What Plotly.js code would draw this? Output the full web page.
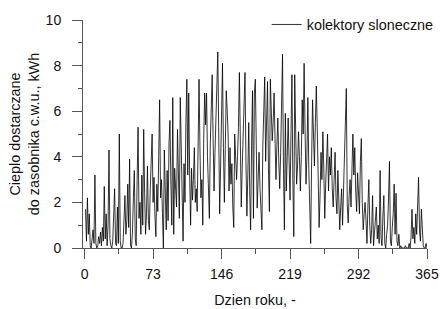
<!DOCTYPE html>
<html>
<head>
<meta charset="utf-8">
<script src="https://cdn.plot.ly/plotly-3.0.1.min.js"></script>
<style>html,body{margin:0;padding:0;background:#fff;}#chart{width:440px;height:309px;}</style>
</head>
<body>
<div id="chart"></div>
<script>
// Daily heat delivered to DHW tank by solar collectors, kWh
var heat = [
  1.7, 0.3, 2.2, 0.6, 1.5, 0.1, 0, 0.3, 0.8, 0.2,
  3.2, 0.2, 0, 0.1, 0.5, 0.2, 0.7, 0.1, 0.9, 0.3,
  2.7, 0.4, 1.5, 0.1, 1.0, 4.3, 0.4, 0.1, 0, 0.3,
  1.2, 2.6, 0.2, 0.1, 1.8, 0.2, 5.0, 0.3, 0, 0,
  0.2, 1.5, 2.3, 0.6, 1.2, 2.8, 0.9, 3.9, 0.1, 0,
  0.7, 2.2, 3.4, 0.4, 0.1, 3.0, 5.3, 1.3, 2.0, 0.6,
  3.2, 1.0, 5.2, 2.4, 0.6, 1.5, 3.6, 1.2, 0.8, 2.6,
  4.2, 5.0, 2.0, 3.1, 1.4, 0.5, 2.8, 1.6, 4.0, 6.5,
  2.2, 3.0, 1.5, 0, 4.3, 2.0, 0.8, 3.4, 1.2, 4.6,
  5.6, 2.8, 1.0, 6.6, 0.6, 3.5, 2.5, 1.8, 5.2, 3.0,
  1.3, 6.6, 4.1, 1.5, 0.3, 3.7, 2.0, 5.5, 7.4, 3.2,
  6.8, 3.2, 1.0, 3.5, 2.1, 3.0, 4.4, 2.0, 2.6, 1.6,
  4.5, 7.4, 4.3, 2.2, 3.0, 1.0, 4.8, 6.8, 5.4, 6.8,
  4.0, 2.8, 1.3, 4.6, 5.9, 7.6, 4.8, 2.5, 4.2, 5.5,
  7.1, 8.6, 5.0, 1.5, 3.6, 5.8, 8.1, 4.4, 2.0, 4.5,
  6.9, 6.05, 5.0, 2.5, 4.4, 2.8, 3.7, 1.8, 0.9, 5.0,
  3.6, 3.0, 4.0, 5.3, 7.7, 4.0, 1.8, 3.5, 5.2, 6.9,
  7.7, 3.8, 1.4, 3.2, 5.5, 2.5, 0.8, 4.5, 6.9, 1.3,
  6.8, 7.4, 4.0, 1.75, 3.0, 4.2, 2.6, 1.5, 0.8, 4.5,
  6.0, 7.5, 3.8, 5.5, 7.3, 3.5, 1.6, 7.4, 6.0, 4.7,
  5.5, 6.8, 4.8, 3.0, 4.5, 5.7, 3.8, 2.6, 4.2, 6.9,
  8.5, 3.5, 0.8, 5.9, 2.5, 4.0, 5.7, 3.8, 2.1, 5.0,
  7.6, 3.0, 0.5, 7.6, 5.0, 2.8, 3.6, 5.1, 4.0, 2.5,
  4.0, 6.5, 5.0, 8.1, 5.2, 2.8, 4.0, 6.6, 3.5, 1.8,
  0.2, 3.8, 6.5, 5.0, 3.6, 5.5, 7.1, 5.3, 2.5, 0.9,
  2.3, 4.2, 3.0, 5.1, 3.5, 1.3, 2.8, 3.6, 5.0, 2.5,
  4.0, 3.2, 4.4, 2.6, 1.8, 3.0, 4.2, 2.2, 1.5, 3.4,
  2.0, 0.8, 1.8, 2.6, 1.0, 2.5, 4.6, 6.0, 7.0, 1.9,
  1.1, 2.3, 3.0, 1.8, 4.0, 5.0, 3.2, 4.4, 2.5, 1.6,
  3.3, 2.6, 1.5, 3.8, 4.8, 2.0, 0.8, 1.5, 2.0, 1.2,
  0.2, 1.8, 3.0, 1.0, 0.2, 0.8, 2.3, 0.1, 0.6, 1.2,
  1.8, 0.4, 1.0, 0.2, 3.4, 0.5, 0.1, 1.4, 2.3, 0.2,
  0, 0.6, 1.0, 2.2, 3.8, 0.3, 0.1, 0.9, 1.5, 2.8,
  0.6, 2.4, 0.3, 0.1, 0.6, 0, 0.1, 0, 0, 0,
  0, 0.1, 0, 0, 0, 0.2, 0, 0.5, 1.7, 0.4,
  0.9, 0.2, 1.5, 0.6, 1.9, 3.1, 0.8, 0.3, 1.7, 0.5,
  0.1, 0, 0, 0.2, 0
];
var days = heat.map(function (v, i) { return i + 1; });
var xTicks = [0, 73, 146, 219, 292, 365];
var yTicks = [0, 2, 4, 6, 8, 10];
var seriesName = 'kolektory sloneczne';

var FONT = 'Liberation Sans, Arial, sans-serif';

var trace = {
  x: days, y: heat, type: 'scatter', mode: 'lines', name: seriesName,
  line: { color: '#000', width: 0.8 }
};

var layout = {
  width: 440, height: 309,
  margin: { l: 83, r: 13, t: 20, b: 61, autoexpand: false },
  paper_bgcolor: '#fff', plot_bgcolor: '#fff',
  font: { family: FONT, size: 14, color: '#111' },
  showlegend: true,
  legend: { x: 0.534, y: 1.05, xanchor: 'left', yanchor: 'top', bgcolor: 'rgba(0,0,0,0)',
            font: { family: FONT, size: 14.4, color: '#111' } },
  xaxis: {
    range: [-1.7, 365], tickmode: 'array', tickvals: xTicks, ticktext: xTicks.map(String),
    showgrid: false, zeroline: false, showline: true, linecolor: '#555', linewidth: 1,
    ticks: 'outside', ticklen: 10, tickcolor: '#555', tickwidth: 1, ticklabelstandoff: 3,
    tickfont: { family: FONT, size: 14, color: '#111' },
    minor: { tick0: 0, dtick: 36.5, ticks: 'outside', ticklen: 5, tickcolor: '#555', showgrid: false },
    title: { text: 'Dzien roku, -', font: { family: FONT, size: 14.4, color: '#111' }, standoff: 14 }
  },
  yaxis: {
    range: [0, 10], tickmode: 'array', tickvals: yTicks, ticktext: yTicks.map(String),
    showgrid: false, zeroline: false, showline: true, linecolor: '#555', linewidth: 1,
    ticks: 'outside', ticklen: 10, tickcolor: '#555', tickwidth: 1, ticklabelstandoff: 8,
    tickfont: { family: FONT, size: 14, color: '#111' },
    minor: { tick0: 0, dtick: 1, ticks: 'outside', ticklen: 4, tickcolor: '#555', showgrid: false },
    title: { text: 'Cieplo dostarczane<br>do zasobnika c.w.u., kWh', font: { family: FONT, size: 14.4, color: '#111' }, standoff: 2 }
  }
};

Plotly.newPlot('chart', [trace], layout, { displayModeBar: false, staticPlot: true });
</script>
</body>
</html>
